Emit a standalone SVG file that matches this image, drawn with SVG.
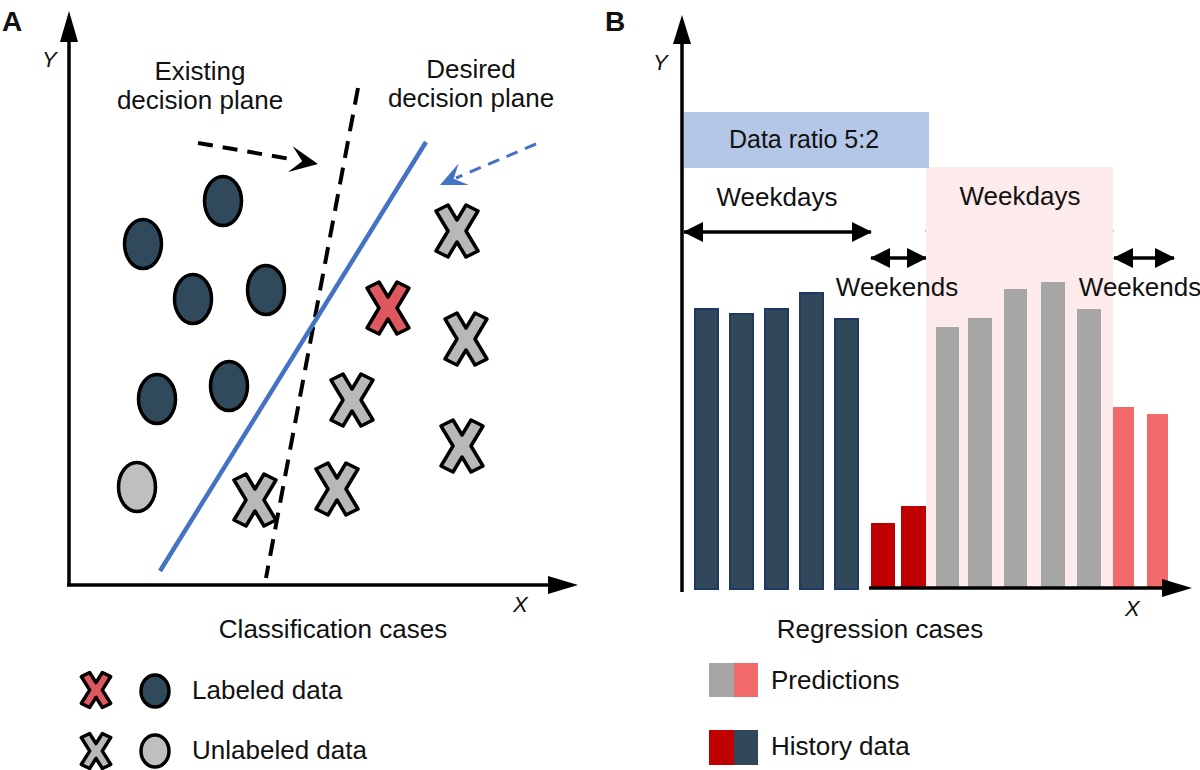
<svg xmlns="http://www.w3.org/2000/svg" xmlns:xlink="http://www.w3.org/1999/xlink" width="1200" height="770" viewBox="0 0 1200 770">
<style>
text{font-family:"Liberation Sans",Arial,sans-serif;fill:#111;}
.lbl{font-size:26px;}
.ax{font-size:22px;font-style:italic;}
.pan{font-size:28px;font-weight:bold;}
.axis{stroke:#000;stroke-width:3.5;fill:none;}
.dk{fill:#304a5b;stroke:#000;stroke-width:3.5;}
.lg{fill:#bfbfbf;stroke:#000;stroke-width:3.5;}
.gx{fill:#b8b8b8;stroke:#000;stroke-width:3.5;stroke-linejoin:round;}
.rx{fill:#e0585f;stroke:#000;stroke-width:3.5;stroke-linejoin:round;}
.hb{fill:#304859;stroke:#1f3864;stroke-width:2;}
.rb{fill:#c00000;}
.gb{fill:#a6a6a6;}
.pb{fill:#f26a69;}
.dbl{stroke:#000;stroke-width:3.5;fill:none;marker-start:url(#ah);marker-end:url(#ah);}
</style>
<defs>
<path id="xm" d="M-21,-20 L-9,-26 L0,-11 L9,-26 L21,-20 L9,0 L21,20 L9,26 L0,11 L-9,26 L-21,20 L-9,0 Z"/>
<marker id="ah" viewBox="0 0 20 20" refX="19" refY="10" markerWidth="20" markerHeight="20" markerUnits="userSpaceOnUse" orient="auto-start-reverse">
<path d="M0,0 L20,10 L0,20 Z" fill="#000"/>
</marker>
</defs>

<!-- Panel A -->
<g id="panelA">
<text class="pan" x="2" y="31">A</text>
<g id="axesA">
<line class="axis" x1="69" y1="586" x2="69" y2="38"/>
<polygon points="69,11 60,42 78,42" fill="#000"/>
<line class="axis" x1="67" y1="585" x2="552" y2="585"/>
<polygon points="578,585 548,576 548,594" fill="#000"/>
<text class="ax" x="42" y="67">Y</text>
<text class="ax" x="513" y="612">X</text>
</g>
<text class="lbl" x="200" y="80" text-anchor="middle">Existing</text>
<text class="lbl" x="200" y="109" text-anchor="middle">decision plane</text>
<text class="lbl" x="471" y="78" text-anchor="middle">Desired</text>
<text class="lbl" x="471" y="107" text-anchor="middle">decision plane</text>
<text class="lbl" x="333" y="638" text-anchor="middle">Classification cases</text>
</g>

<g id="connectors">
<line id="existing-plane" x1="358" y1="88" x2="266" y2="578" stroke="#000" stroke-width="4" stroke-dasharray="17,10"/>
<line id="desired-plane" x1="426" y1="142" x2="160" y2="571" stroke="#4472c4" stroke-width="4.5"/>
<g id="arrow-existing">
<line x1="198" y1="143" x2="296" y2="160" stroke="#000" stroke-width="4" stroke-dasharray="15,10"/>
<polygon points="318,164 292.7,146.3 302.2,161.2 288.1,171.9" fill="#000"/>
</g>
<g id="arrow-desired">
<line x1="536" y1="144" x2="456" y2="178" stroke="#4472c4" stroke-width="3" stroke-dasharray="12,8"/>
<polygon points="440,185 458.7,163.3 453.7,178.8 468.7,185.1" fill="#4472c4"/>
</g>
<line id="arrow-weekdays-1" class="dbl" x1="684" y1="232" x2="871" y2="232"/>
<line id="arrow-weekdays-2" class="dbl" x1="926" y1="231" x2="1113" y2="231"/>
<line id="arrow-weekends-1" class="dbl" x1="871" y1="258" x2="926" y2="258"/>
<line id="arrow-weekends-2" class="dbl" x1="1114" y1="258" x2="1174" y2="258"/>
</g>

<g id="points">
<ellipse id="c1" class="dk" cx="223" cy="201" rx="18.5" ry="24.5"/>
<ellipse id="c2" class="dk" cx="143" cy="244" rx="18.5" ry="24.5"/>
<ellipse id="c3" class="dk" cx="193" cy="299" rx="18.5" ry="24.5"/>
<ellipse id="c4" class="dk" cx="266" cy="290" rx="18.5" ry="24.5"/>
<ellipse id="c5" class="dk" cx="157" cy="399" rx="18.5" ry="24.5"/>
<ellipse id="c6" class="dk" cx="229" cy="386" rx="18.5" ry="24.5"/>
<ellipse id="c7" class="lg" cx="137" cy="487" rx="18.5" ry="24.5"/>
<use id="x1" xlink:href="#xm" class="gx" x="457" y="231"/>
<use id="x2" xlink:href="#xm" class="rx" x="388" y="308"/>
<use id="x3" xlink:href="#xm" class="gx" x="466" y="339"/>
<use id="x4" xlink:href="#xm" class="gx" x="352" y="400"/>
<use id="x5" xlink:href="#xm" class="gx" x="462" y="446"/>
<use id="x6" xlink:href="#xm" class="gx" x="255" y="500"/>
<use id="x7" xlink:href="#xm" class="gx" x="337" y="489"/>
</g>

<g id="legendA">
<g id="leg-labeled">
<path d="M-21,-20 L-9,-26 L0,-11 L9,-26 L21,-20 L9,0 L21,20 L9,26 L0,11 L-9,26 L-21,20 L-9,0 Z" transform="translate(96,690) scale(0.7,0.67)" fill="#e0585f" stroke="#000" stroke-width="5" stroke-linejoin="round"/>
<ellipse class="dk" cx="155" cy="691" rx="14" ry="16"/>
<text class="lbl" x="192" y="699">Labeled data</text>
</g>
<g id="leg-unlabeled">
<path d="M-21,-20 L-9,-26 L0,-11 L9,-26 L21,-20 L9,0 L21,20 L9,26 L0,11 L-9,26 L-21,20 L-9,0 Z" transform="translate(96,751) scale(0.7,0.67)" fill="#b8b8b8" stroke="#000" stroke-width="5" stroke-linejoin="round"/>
<ellipse class="lg" cx="155" cy="751" rx="14" ry="16"/>
<text class="lbl" x="192" y="759">Unlabeled data</text>
</g>
</g>

<!-- Panel B -->
<g id="panelB">
<text class="pan" x="605" y="31">B</text>
<rect id="pred-zone" x="926" y="167" width="187" height="421" fill="#fdeaea"/>
<g id="ratio-box">
<rect x="684" y="112" width="245" height="56" fill="#b4c7e7"/>
<text class="lbl" x="804" y="148" text-anchor="middle" style="font-size:25px">Data ratio 5:2</text>
</g>
<text class="lbl" x="777" y="206" text-anchor="middle">Weekdays</text>
<text class="lbl" x="1020" y="205" text-anchor="middle">Weekdays</text>
<text class="lbl" x="897" y="296" text-anchor="middle">Weekends</text>
<text class="lbl" x="1140" y="296" text-anchor="middle">Weekends</text>
<g id="bars">
<rect class="hb" x="695" y="309" width="23" height="280"/>
<rect class="hb" x="730" y="314" width="23" height="275"/>
<rect class="hb" x="765" y="309" width="23" height="280"/>
<rect class="hb" x="800" y="293" width="23" height="296"/>
<rect class="hb" x="835" y="319" width="23" height="270"/>
<rect class="rb" x="871" y="523" width="24" height="65"/>
<rect class="rb" x="901" y="506" width="25" height="82"/>
<rect class="gb" x="936" y="327" width="23" height="261"/>
<rect class="gb" x="968" y="318" width="24" height="270"/>
<rect class="gb" x="1004" y="289" width="23" height="299"/>
<rect class="gb" x="1041" y="282" width="24" height="306"/>
<rect class="gb" x="1077" y="309" width="24" height="279"/>
<rect class="pb" x="1113" y="407" width="21" height="181"/>
<rect class="pb" x="1147" y="414" width="21" height="174"/>
</g>
<g id="axesB">
<line class="axis" x1="682" y1="592" x2="682" y2="40"/>
<polygon points="682,15 673,44 691,44" fill="#000"/>
<line class="axis" x1="869" y1="588" x2="1165" y2="588"/>
<polygon points="1192,588 1162,579 1162,597" fill="#000"/>
<text class="ax" x="653" y="70">Y</text>
<text class="ax" x="1125" y="616">X</text>
</g>
<text class="lbl" x="880" y="638" text-anchor="middle">Regression cases</text>
<g id="legendB">
<g id="leg-pred">
<rect x="709" y="663" width="25" height="34" fill="#a6a6a6"/>
<rect x="734" y="663" width="24" height="34" fill="#f26a69"/>
<text class="lbl" x="771" y="689">Predictions</text>
</g>
<g id="leg-hist">
<rect x="709" y="730" width="25" height="35" fill="#c00000"/>
<rect x="734" y="730" width="24" height="35" fill="#304859"/>
<text class="lbl" x="771" y="755">History data</text>
</g>
</g>
</g>
</svg>
